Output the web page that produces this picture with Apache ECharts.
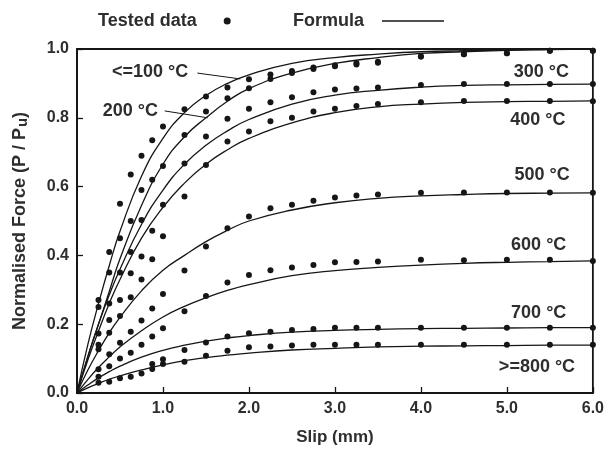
<!DOCTYPE html>
<html>
<head>
<meta charset="utf-8">
<script src="https://cdn.jsdelivr.net/npm/echarts@6/dist/echarts.min.js"></script>
<style>
  html, body { margin: 0; padding: 0; background: #fff; }
  #chart { width: 607px; height: 452px; }
</style>
</head>
<body>
<div id="chart"></div>
<script>
// temperatures, top to bottom
const tempLabels = ['<=100 °C', '200 °C', '300 °C', '400 °C', '500 °C', '600 °C', '700 °C', '>=800 °C']

// slip values (mm) of the tested data
const testSlip = [0.25, 0.375, 0.5, 0.625, 0.75, 0.875, 1.0, 1.25, 1.5, 1.75, 2.0, 2.25, 2.5, 2.75, 3.0, 3.25, 3.5, 4.0, 4.5, 5.0, 5.5, 6.0]

const test100 = [0.27, 0.41, 0.55, 0.635, 0.69, 0.735, 0.775, 0.825, 0.862, 0.888, 0.912, 0.926, 0.936, 0.946, 0.953, 0.959, 0.963, 0.978, 0.985, 0.988, 0.995, 0.995]
const test200 = [0.25, 0.35, 0.45, 0.5, 0.59, 0.62, 0.66, 0.75, 0.818, 0.857, 0.886, 0.913, 0.93, 0.942, 0.95, 0.955, 0.96, 0.978, 0.985, 0.988, 0.995, 0.995]
const test300 = [0.173, 0.26, 0.35, 0.41, 0.503, 0.472, 0.547, 0.667, 0.746, 0.797, 0.826, 0.845, 0.86, 0.874, 0.882, 0.885, 0.888, 0.895, 0.898, 0.898, 0.898, 0.898]
const test400 = [0.14, 0.212, 0.27, 0.348, 0.397, 0.389, 0.456, 0.571, 0.663, 0.731, 0.76, 0.79, 0.80, 0.818, 0.826, 0.834, 0.84, 0.845, 0.849, 0.849, 0.849, 0.848]
const test500 = [0.127, 0.175, 0.224, 0.278, 0.33, 0.246, 0.288, 0.356, 0.426, 0.479, 0.513, 0.537, 0.547, 0.559, 0.568, 0.574, 0.577, 0.582, 0.583, 0.583, 0.583, 0.582]
const test600 = [0.069, 0.113, 0.146, 0.178, 0.211, 0.164, 0.188, 0.238, 0.282, 0.321, 0.343, 0.357, 0.365, 0.372, 0.38, 0.381, 0.382, 0.387, 0.386, 0.387, 0.387, 0.384]
const test700 = [0.047, 0.078, 0.1, 0.117, 0.14, 0.084, 0.098, 0.125, 0.147, 0.164, 0.174, 0.178, 0.183, 0.186, 0.19, 0.19, 0.19, 0.19, 0.19, 0.19, 0.19, 0.19]
const test800 = [0.03, 0.033, 0.043, 0.047, 0.057, 0.07, 0.084, 0.091, 0.108, 0.123, 0.133, 0.135, 0.138, 0.14, 0.14, 0.14, 0.14, 0.14, 0.14, 0.14, 0.14, 0.14]

// slip values (mm) where the formula curves were read
const curveSlip = [0, 0.125, 0.25, 0.375, 0.5, 0.75, 1.0, 1.25, 1.5, 1.75, 2.0, 2.5, 3.0, 3.5, 4.0, 4.5, 5.0, 5.5, 6.0]

const curve100 = [0, 0.14, 0.26, 0.37, 0.47, 0.63, 0.74, 0.815, 0.865, 0.9, 0.925, 0.958, 0.975, 0.985, 0.992, 0.995, 0.997, 0.999, 1.0]
const curve200 = [0, 0.105, 0.2, 0.295, 0.39, 0.545, 0.665, 0.745, 0.8, 0.848, 0.885, 0.93, 0.958, 0.975, 0.987, 0.992, 0.996, 0.998, 1.0]
const curve300 = [0, 0.105, 0.2, 0.285, 0.36, 0.49, 0.59, 0.665, 0.72, 0.762, 0.795, 0.84, 0.866, 0.88, 0.889, 0.894, 0.896, 0.897, 0.898]
const curve400 = [0, 0.095, 0.18, 0.26, 0.33, 0.45, 0.54, 0.61, 0.665, 0.707, 0.74, 0.785, 0.815, 0.832, 0.84, 0.845, 0.847, 0.848, 0.849]
const curve500 = [0, 0.066, 0.123, 0.175, 0.22, 0.297, 0.357, 0.40, 0.44, 0.473, 0.5, 0.532, 0.553, 0.566, 0.573, 0.577, 0.58, 0.581, 0.582]
const curve600 = [0, 0.039, 0.074, 0.105, 0.134, 0.181, 0.221, 0.252, 0.277, 0.298, 0.315, 0.341, 0.356, 0.365, 0.372, 0.377, 0.38, 0.382, 0.384]
const curve700 = [0, 0.023, 0.044, 0.062, 0.078, 0.104, 0.124, 0.139, 0.151, 0.16, 0.167, 0.177, 0.182, 0.185, 0.187, 0.188, 0.189, 0.19, 0.19]
const curve800 = [0, 0.015, 0.028, 0.04, 0.05, 0.067, 0.082, 0.094, 0.103, 0.11, 0.116, 0.125, 0.13, 0.134, 0.136, 0.137, 0.138, 0.139, 0.139]

// where the temperature labels sit (data units)
const labelX = [0.85, 0.62, 5.4, 5.36, 5.41, 5.37, 5.37, 5.35]
const labelY = [0.933, 0.82, 0.933, 0.794, 0.634, 0.43, 0.233, 0.076]
// leader lines for the two left labels
const leader100 = [[1.4, 0.93], [1.9, 0.913]]
const leader200 = [[1.02, 0.82], [1.52, 0.8]]

const tests = [test100, test200, test300, test400, test500, test600, test700, test800]
const curves = [curve100, curve200, curve300, curve400, curve500, curve600, curve700, curve800]

const ink = '#161616'
const textColor = '#2e2e2e'
const font = '"Liberation Sans", Arial, sans-serif'

const chart = echarts.init(document.getElementById('chart'))

const series = []
tests.forEach(vals => {
  series.push({
    name: 'Tested data',
    type: 'scatter',
    symbol: 'circle',
    symbolSize: 6,
    itemStyle: { color: ink, opacity: 1 },
    data: testSlip.map((s, j) => [s, vals[j]]),
    z: 3
  })
})

curves.forEach((vals, i) => {
  const s = {
    name: 'Formula',
    type: 'line',
    smooth: 0.5,
    showSymbol: false,
    lineStyle: { color: ink, width: 1.3 },
    itemStyle: { color: ink },
    data: curveSlip.map((x, j) => [x, vals[j]]),
    markPoint: {
      symbol: 'circle',
      symbolSize: 1,
      itemStyle: { color: 'rgba(0,0,0,0)' },
      label: {
        show: true,
        position: 'inside',
        formatter: tempLabels[i],
        color: textColor,
        fontFamily: font,
        fontWeight: 'bold',
        fontSize: 18
      },
      data: [{ coord: [labelX[i], labelY[i]] }]
    }
  }
  if (i === 0 || i === 1) {
    const ld = i === 0 ? leader100 : leader200
    s.markLine = {
      symbol: 'none',
      silent: true,
      label: { show: false },
      lineStyle: { color: ink, width: 1, type: 'solid' },
      data: [[{ coord: ld[0] }, { coord: ld[1] }]]
    }
  }
  series.push(s)
})

const boldText = size => ({ color: textColor, fontFamily: font, fontWeight: 'bold', fontSize: size })

chart.setOption({
  animation: false,
  backgroundColor: '#fff',
  legend: [
    {
      data: [{ name: 'Tested data', icon: 'circle' }],
      left: 93,
      top: 7,
      align: 'right',
      itemWidth: 7,
      itemHeight: 7,
      selectedMode: false,
      textStyle: Object.assign(boldText(18), { padding: [0, 22, 0, 0] })
    },
    {
      data: [{ name: 'Formula', icon: 'rect' }],
      left: 288,
      top: 7,
      align: 'right',
      itemWidth: 62,
      itemHeight: 1.3,
      selectedMode: false,
      textStyle: Object.assign(boldText(18), { padding: [0, 13, 0, 0] })
    }
  ],
  grid: {
    left: 77,
    right: 14,
    top: 49,
    bottom: 59,
    show: true,
    borderColor: ink,
    borderWidth: 1.8
  },
  xAxis: {
    type: 'value',
    min: 0,
    max: 6,
    interval: 1,
    name: 'Slip (mm)',
    nameLocation: 'middle',
    nameGap: 36,
    nameTextStyle: boldText(17),
    axisLine: { show: true, lineStyle: { color: ink, width: 1.8 } },
    axisTick: { show: true, inside: true, length: 6, lineStyle: { color: ink, width: 1.3 } },
    axisLabel: Object.assign(boldText(16), { margin: 8, formatter: v => v.toFixed(1) }),
    splitLine: { show: false }
  },
  yAxis: {
    type: 'value',
    min: 0,
    max: 1,
    interval: 0.2,
    name: '{a|Normalised Force (P / P}{s|u}{a|)}',
    nameLocation: 'middle',
    nameGap: 47,
    nameTextStyle: {
      rich: {
        a: boldText(18),
        s: Object.assign(boldText(15), { padding: [5, 0, 0, 1] })
      }
    },
    axisLine: { show: true, lineStyle: { color: ink, width: 1.8 } },
    axisTick: { show: true, inside: true, length: 6, lineStyle: { color: ink, width: 1.3 } },
    axisLabel: Object.assign(boldText(16), { margin: 8, formatter: v => v.toFixed(1) }),
    splitLine: { show: false }
  },
  series
})
</script>
</body>
</html>
